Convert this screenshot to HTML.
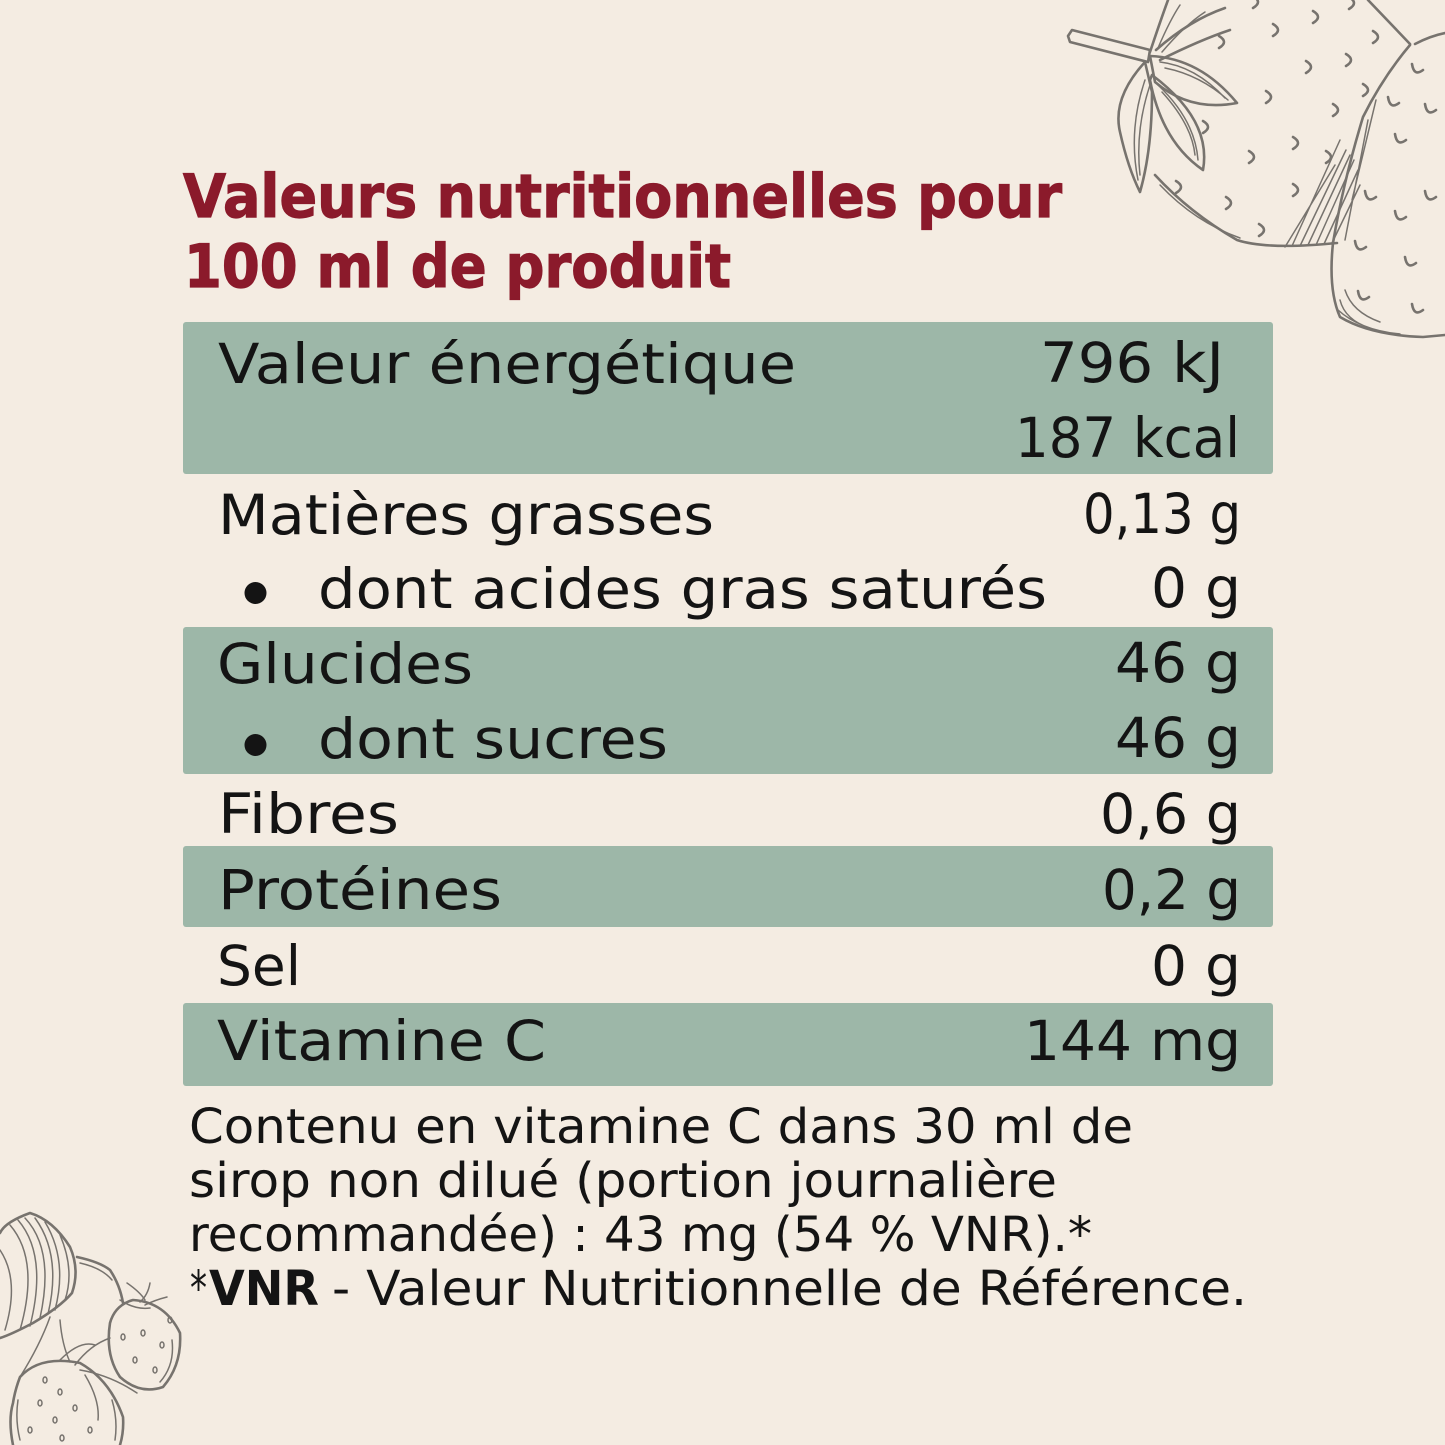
<!DOCTYPE html>
<html><head><meta charset="utf-8"><style>
html,body{margin:0;padding:0;background:#f4ece2;}
svg{display:block;}
.t{font-family:"DejaVu Sans","Liberation Sans",sans-serif;fill:#141414;}
.h{font-family:"DejaVu Sans","Liberation Sans",sans-serif;font-weight:bold;fill:#8b1a2b;stroke:#8b1a2b;stroke-width:1.2;}
.s{fill:none;stroke:#77736e;stroke-width:2.6;stroke-linecap:round;stroke-linejoin:round;}
.s1{fill:none;stroke:#77736e;stroke-width:1.5;stroke-linecap:round;}
</style></head><body>
<svg width="1445" height="1445" viewBox="0 0 1445 1445" xmlns="http://www.w3.org/2000/svg">
<rect width="1445" height="1445" fill="#f4ece2"/>

<!-- top-right strawberries -->
<g>
<path class="s" d="M1068,36 L1072,30 L1150,50 L1148,62 L1070,42 Z"/>
<path class="s" d="M1150,56 Q1200,58 1237,103 Q1190,112 1155,82 Z"/>
<path class="s" d="M1152,75 Q1212,120 1203,170 Q1162,142 1150,80 Z"/>
<path class="s" d="M1145,62 Q1112,98 1120,132 Q1128,168 1140,192 Q1152,150 1152,92 Z"/>
<path class="s" d="M1150,52 Q1160,22 1168,0 M1156,50 Q1190,20 1225,8 M1160,60 Q1200,40 1230,30"/>
<path class="s1" d="M1160,62 Q1195,66 1225,98 M1165,68 Q1200,75 1228,100 M1158,85 Q1195,120 1198,160 M1162,92 Q1192,125 1195,155 M1145,80 Q1128,130 1138,180 M1150,85 Q1135,130 1140,175 M1158,48 Q1170,20 1180,5 M1162,52 Q1185,25 1205,12"/>
<path class="s" d="M1155,175 Q1190,213 1237,240 Q1267,250 1337,243"/>
<path class="s1" d="M1160,185 Q1195,222 1240,238"/>
<path class="s" d="M1368,0 L1410,44"/>
<path class="s" d="M1410,45 Q1383,77 1363,117 Q1343,183 1333,243 Q1328,290 1340,317 Q1370,335 1423,337 L1445,335"/>
<path class="s" d="M1415,44 Q1430,36 1445,33"/>
<path class="s1" d="M1292,246 L1340,140 M1300,246 L1346,150 M1308,245 L1350,155 M1316,245 L1354,160 M1324,244 L1358,170 M1332,243 L1360,185 M1285,247 L1335,165 M1345,240 L1368,120 M1352,200 L1376,100 M1340,300 Q1345,320 1370,328 M1345,290 Q1352,312 1380,322 M1338,310 Q1360,330 1400,334"/>
<g class="s">
<path d="M1219,36 Q1229,42 1219,48"/><path d="M1273,24 Q1283,30 1273,36"/><path d="M1313,11 Q1323,17 1313,23"/>
<path d="M1253,-4 Q1263,2 1253,8"/><path d="M1349,-3 Q1359,3 1349,9"/><path d="M1373,31 Q1383,37 1373,43"/>
<path d="M1306,61 Q1316,67 1306,73"/><path d="M1346,54 Q1356,60 1346,66"/><path d="M1266,91 Q1276,97 1266,103"/>
<path d="M1333,104 Q1343,110 1333,116"/><path d="M1203,121 Q1213,127 1203,133"/><path d="M1293,137 Q1303,143 1293,149"/>
<path d="M1326,151 Q1336,157 1326,163"/><path d="M1249,151 Q1259,157 1249,163"/><path d="M1293,184 Q1303,190 1293,196"/>
<path d="M1226,197 Q1236,203 1226,209"/><path d="M1176,181 Q1186,187 1176,193"/><path d="M1259,224 Q1269,230 1259,236"/>
<path d="M1363,84 Q1373,90 1363,96"/>
<path d="M1412,64 Q1414,77 1423,70"/><path d="M1425,104 Q1427,117 1436,110"/><path d="M1388,97 Q1390,110 1399,103"/>
<path d="M1395,134 Q1397,147 1406,140"/><path d="M1365,191 Q1367,204 1376,197"/><path d="M1395,211 Q1397,224 1406,217"/>
<path d="M1425,191 Q1427,204 1436,197"/><path d="M1355,241 Q1357,254 1366,247"/><path d="M1405,257 Q1407,270 1416,263"/>
<path d="M1358,291 Q1360,304 1369,297"/><path d="M1412,304 Q1414,317 1423,310"/>
</g>
</g>

<!-- bottom-left strawberries -->
<g>
<path class="s" d="M0,1233 Q5,1222 30,1213 Q53,1220 70,1247 Q80,1270 72,1293 Q60,1307 33,1323 Q10,1335 0,1338"/>
<path class="s1" d="M10,1225 Q40,1260 20,1330 M18,1220 Q48,1255 30,1326 M25,1218 Q55,1250 40,1318 M35,1218 Q62,1255 48,1314 M45,1222 Q68,1260 55,1310 M0,1250 Q20,1280 5,1330 M60,1235 Q75,1270 65,1300"/>
<path class="s" d="M77,1257 Q100,1262 110,1270 Q120,1285 123,1303"/>
<path class="s1" d="M80,1263 Q102,1268 112,1280"/>
<path class="s" d="M133,1300 Q165,1302 180,1333 Q182,1365 163,1387 Q140,1395 120,1377 Q105,1355 110,1323 Q115,1305 133,1300 Z"/>
<path class="s1" d="M127,1283 Q140,1292 145,1300 M150,1283 Q148,1295 140,1302 M167,1297 Q155,1300 145,1305 M120,1300 Q135,1310 150,1308 M172,1340 Q175,1365 160,1382"/>
<path class="s" d="M20,1377 Q40,1355 80,1363 Q110,1380 123,1417 Q124,1432 120,1445 M13,1445 Q8,1420 13,1403 Q15,1390 20,1377"/>
<path class="s1" d="M60,1360 Q80,1340 95,1345 M80,1370 Q110,1375 137,1393 M75,1365 Q90,1345 110,1338 M85,1375 Q100,1400 98,1420 M50,1317 Q40,1345 20,1377 M60,1320 Q62,1345 70,1362 M18,1400 Q15,1420 20,1440 M112,1400 Q118,1420 115,1440"/>
<g class="s1">
<ellipse cx="123" cy="1337" rx="2" ry="3"/><ellipse cx="143" cy="1333" rx="2" ry="3"/><ellipse cx="162" cy="1345" rx="2" ry="3"/>
<ellipse cx="135" cy="1360" rx="2" ry="3"/><ellipse cx="155" cy="1370" rx="2" ry="3"/><ellipse cx="170" cy="1320" rx="2" ry="3"/>
<ellipse cx="45" cy="1380" rx="2" ry="3"/><ellipse cx="60" cy="1392" rx="2" ry="3"/><ellipse cx="40" cy="1403" rx="2" ry="3"/>
<ellipse cx="55" cy="1420" rx="2" ry="3"/><ellipse cx="75" cy="1408" rx="2" ry="3"/><ellipse cx="30" cy="1430" rx="2" ry="3"/>
<ellipse cx="62" cy="1438" rx="2" ry="3"/><ellipse cx="90" cy="1430" rx="2" ry="3"/>
</g>
</g>

<!-- title -->
<text class="h" x="183" y="217" font-size="60" textLength="879" lengthAdjust="spacingAndGlyphs">Valeurs nutritionnelles pour</text>
<text class="h" x="184" y="287" font-size="60" textLength="547" lengthAdjust="spacingAndGlyphs">100 ml de produit</text>

<!-- green rows -->
<rect x="183" y="322" width="1090" height="152" rx="3" fill="#9db7a8"/>
<rect x="183" y="627" width="1090" height="147" rx="3" fill="#9db7a8"/>
<rect x="183" y="846" width="1090" height="81" rx="3" fill="#9db7a8"/>
<rect x="183" y="1003" width="1090" height="83" rx="3" fill="#9db7a8"/>

<!-- rows -->
<g font-size="55">
<text class="t" x="218" y="383" textLength="578" lengthAdjust="spacingAndGlyphs">Valeur énergétique</text>
<text class="t" x="1040" y="382" textLength="184" lengthAdjust="spacingAndGlyphs">796 kJ</text>
<text class="t" x="1015" y="457" textLength="225" lengthAdjust="spacingAndGlyphs">187 kcal</text>

<text class="t" x="218" y="534" textLength="496" lengthAdjust="spacingAndGlyphs">Matières grasses</text>
<text class="t" x="1083" y="533" textLength="158" lengthAdjust="spacingAndGlyphs">0,13 g</text>

<circle cx="255.5" cy="593" r="11" fill="#141414"/>
<text class="t" x="318" y="608" textLength="729" lengthAdjust="spacingAndGlyphs">dont acides gras saturés</text>
<text class="t" x="1151" y="607" textLength="90" lengthAdjust="spacingAndGlyphs">0 g</text>

<text class="t" x="217" y="683" textLength="256" lengthAdjust="spacingAndGlyphs">Glucides</text>
<text class="t" x="1115" y="682" textLength="126" lengthAdjust="spacingAndGlyphs">46 g</text>

<circle cx="255.5" cy="745" r="11" fill="#141414"/>
<text class="t" x="318" y="758" textLength="350" lengthAdjust="spacingAndGlyphs">dont sucres</text>
<text class="t" x="1115" y="757" textLength="126" lengthAdjust="spacingAndGlyphs">46 g</text>

<text class="t" x="218" y="833" textLength="181" lengthAdjust="spacingAndGlyphs">Fibres</text>
<text class="t" x="1100" y="833" textLength="141" lengthAdjust="spacingAndGlyphs">0,6 g</text>

<text class="t" x="218" y="909" textLength="284" lengthAdjust="spacingAndGlyphs">Protéines</text>
<text class="t" x="1102" y="909" textLength="139" lengthAdjust="spacingAndGlyphs">0,2 g</text>

<text class="t" x="217" y="985" textLength="84" lengthAdjust="spacingAndGlyphs">Sel</text>
<text class="t" x="1151" y="985" textLength="90" lengthAdjust="spacingAndGlyphs">0 g</text>

<text class="t" x="217" y="1060" textLength="329" lengthAdjust="spacingAndGlyphs">Vitamine C</text>
<text class="t" x="1024" y="1060" textLength="217" lengthAdjust="spacingAndGlyphs">144 mg</text>
</g>

<!-- footer -->
<g font-size="48">
<text class="t" x="189" y="1143" textLength="944" lengthAdjust="spacingAndGlyphs">Contenu en vitamine C dans 30 ml de</text>
<text class="t" x="189" y="1197" textLength="868" lengthAdjust="spacingAndGlyphs">sirop non dilué (portion journalière</text>
<text class="t" x="189" y="1251" textLength="903" lengthAdjust="spacingAndGlyphs">recommandée) : 43 mg (54 % VNR).*</text>
<text class="t" x="190" y="1305" textLength="17" lengthAdjust="spacingAndGlyphs">*</text>
<text class="t" x="209" y="1305" font-weight="bold" textLength="110" lengthAdjust="spacingAndGlyphs">VNR</text>
<text class="t" x="332" y="1305" textLength="915" lengthAdjust="spacingAndGlyphs">- Valeur Nutritionnelle de Référence.</text>
</g>
</svg>
</body></html>
